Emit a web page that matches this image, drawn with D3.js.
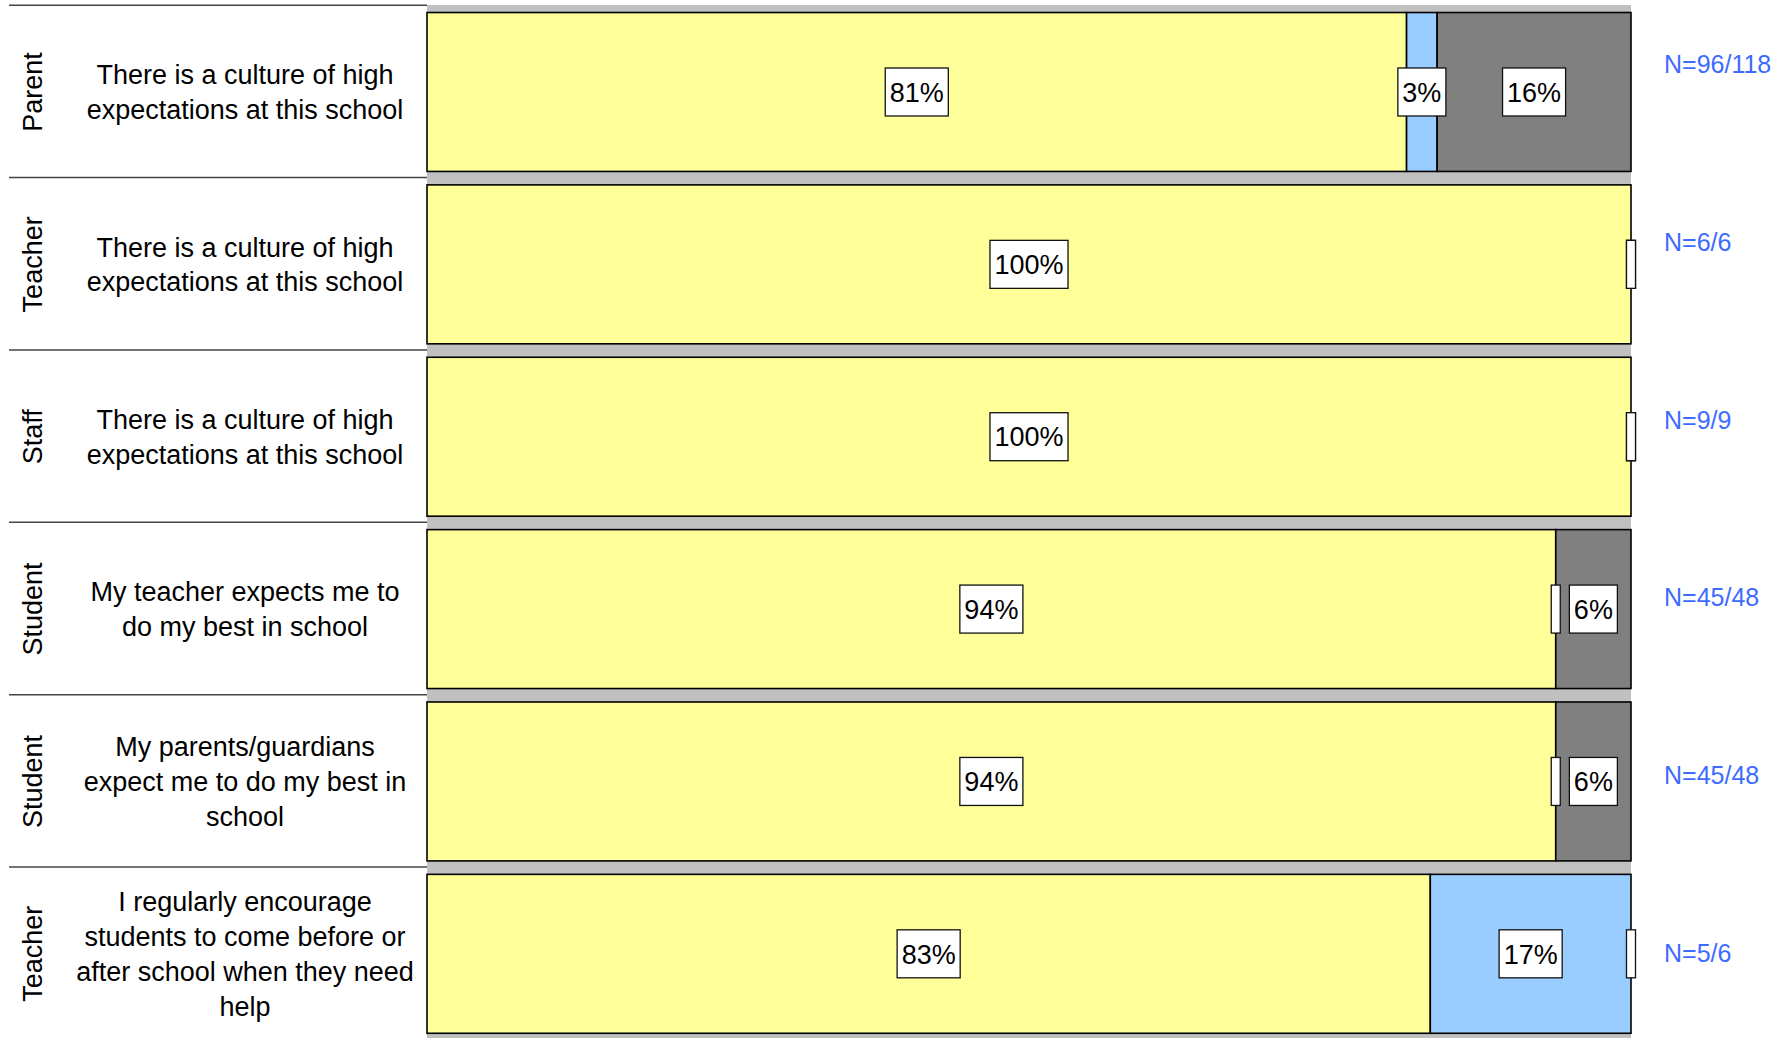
<!DOCTYPE html>
<html>
<head>
<meta charset="utf-8">
<script src="https://cdn.jsdelivr.net/npm/d3@7"></script>
<style>
  body { margin: 0; background: #fff; }
  text { font-family: "Liberation Sans", Arial, sans-serif; }
</style>
</head>
<body>
<svg id="chart" width="1792" height="1038"></svg>
<script>
// rows, top to bottom
var groups = ["Parent", "Teacher", "Staff", "Student", "Student", "Teacher"];
var questions = [
  ["There is a culture of high", "expectations at this school"],
  ["There is a culture of high", "expectations at this school"],
  ["There is a culture of high", "expectations at this school"],
  ["My teacher expects me to", "do my best in school"],
  ["My parents/guardians", "expect me to do my best in", "school"],
  ["I regularly encourage", "students to come before or", "after school when they need", "help"]
];
// percent of responses per segment
var agree    = [81.36, 100, 100, 93.75, 93.75, 83.33];
var neutral  = [2.54, 0, 0, 0, 0, 16.67];
var disagree = [16.10, 0, 0, 6.25, 6.25, 0];
var nLabels  = ["N=96/118", "N=6/6", "N=9/9", "N=45/48", "N=45/48", "N=5/6"];

var colors = ['#FFFF99', '#99CCFF', '#808080'];

var svg = d3.select("#chart");
var rows = groups.map(function(g, i) { return i; });

var plotLeft = 427, plotRight = 1631, plotTop = 5, plotBottom = 1040;

var x = d3.scaleLinear().domain([0, 100]).range([plotLeft, plotRight]);
var y = d3.scaleBand().domain(rows).range([5.8, 1040]).paddingInner(0.078).paddingOuter(0.039);
var yN = d3.scalePoint().domain(rows).range([64, 953]);

// plot background
svg.append("rect")
  .attr("x", plotLeft).attr("y", plotTop)
  .attr("width", plotRight - plotLeft).attr("height", plotBottom - plotTop)
  .attr("fill", "#C0C0C0");

// row separators on the left table
var step = y.step();
var sepY = d3.range(rows.length + 1).map(function(k) { return 5.2 + k * step; });
svg.selectAll("line.sep")
  .data(sepY)
  .enter().append("line")
  .attr("class", "sep")
  .attr("x1", 9).attr("x2", plotLeft)
  .attr("y1", function(d) { return d; })
  .attr("y2", function(d) { return d; })
  .attr("stroke", "#444")
  .attr("stroke-width", 1.5);

// stacked segments
var segs = [];
rows.forEach(function(i) {
  var vals = [agree[i], neutral[i], disagree[i]];
  var x0 = 0;
  vals.forEach(function(v, k) {
    segs.push({ row: i, k: k, x0: x0, x1: x0 + v, v: v });
    x0 += v;
  });
});

svg.selectAll("rect.seg")
  .data(segs.filter(function(d) { return d.v > 0; }))
  .enter().append("rect")
  .attr("class", "seg")
  .attr("x", function(d) { return x(d.x0); })
  .attr("y", function(d) { return y(d.row); })
  .attr("width", function(d) { return x(d.x1) - x(d.x0); })
  .attr("height", y.bandwidth())
  .attr("fill", function(d) { return colors[d.k]; })
  .attr("stroke", "#000")
  .attr("stroke-width", 1.6);

// value labels in white boxes (empty boxes for 0%)
var fs = 27;
var labels = svg.selectAll("g.lab")
  .data(segs.filter(function(d) { return d.v > 0 || d.k > 0 || true; }))
  .enter().append("g")
  .attr("class", "lab")
  .attr("transform", function(d) {
    return "translate(" + ((x(d.x0) + x(d.x1)) / 2) + "," + (y(d.row) + y.bandwidth() / 2) + ")";
  });

labels.each(function(d) {
  var g = d3.select(this);
  var txt = d.v > 0 ? Math.round(d.v) + "%" : "";
  var t = g.append("text")
    .attr("text-anchor", "middle")
    .attr("dy", "0.36em")
    .attr("font-size", fs)
    .attr("fill", "#000")
    .text(txt);
  var w = txt ? t.node().getComputedTextLength() + 9 : 9;
  g.insert("rect", "text")
    .attr("x", -w / 2).attr("y", -24)
    .attr("width", w).attr("height", 48)
    .attr("fill", "#fff")
    .attr("stroke", "#111")
    .attr("stroke-width", 1.3);
});

// group labels, rotated
svg.selectAll("text.group")
  .data(rows)
  .enter().append("text")
  .attr("class", "group")
  .attr("transform", function(i) { return "translate(32," + (y(i) + y.bandwidth() / 2) + ") rotate(-90)"; })
  .attr("text-anchor", "middle")
  .attr("dy", "0.36em")
  .attr("font-size", fs)
  .attr("fill", "#000")
  .text(function(i) { return groups[i]; });

// question text
var lineH = 34.8;
var q = svg.selectAll("text.q")
  .data(rows)
  .enter().append("text")
  .attr("class", "q")
  .attr("text-anchor", "middle")
  .attr("font-size", fs)
  .attr("fill", "#000");

q.selectAll("tspan")
  .data(function(i) {
    var lines = questions[i];
    var cy = y(i) + y.bandwidth() / 2;
    return lines.map(function(l, j) {
      return { text: l, y: cy + (j - (lines.length - 1) / 2) * lineH };
    });
  })
  .enter().append("tspan")
  .attr("x", 245)
  .attr("y", function(d) { return d.y; })
  .attr("dy", "0.36em")
  .text(function(d) { return d.text; });

// N counts
svg.selectAll("text.n")
  .data(rows)
  .enter().append("text")
  .attr("class", "n")
  .attr("x", 1664)
  .attr("y", function(i) { return yN(i); })
  .attr("dy", "0.36em")
  .attr("font-size", 25)
  .attr("fill", "#3D6BFF")
  .text(function(i) { return nLabels[i]; });
</script>
</body>
</html>
